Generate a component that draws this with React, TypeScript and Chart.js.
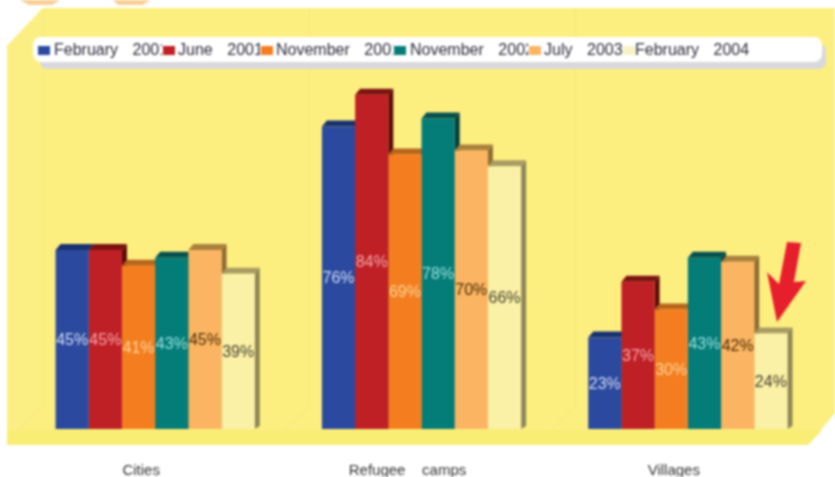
import React, { useEffect, useRef } from "react";
import { Chart, registerables } from "chart.js";

Chart.register(...registerables);

const categories = ["Cities", "Refugee    camps", "Villages"];
const seriesLabels = ["February   2001", "June   2001", "November   2001", "November   2002", "July   2003", "February   2004"];
const feb2001 = [45, 76, 23];
const jun2001 = [45, 84, 37];
const nov2001 = [41, 69, 30];
const nov2002 = [43, 78, 43];
const jul2003 = [45, 70, 42];
const feb2004 = [39, 66, 24];
const seriesValues = [feb2001, jun2001, nov2001, nov2002, jul2003, feb2004];

const frontColors = ["#2b4a9f", "#bf2026", "#f47e1f", "#047c78", "#fbb562", "#faf0a6"];
const capColors = ["#17316f", "#7c1210", "#b8651c", "#06504e", "#a9803c", "#a99c62"];
const sideColors = ["#12265a", "#5e0c0a", "#96521a", "#043d3c", "#8f6c34", "#8e8657"];
const labelColors = ["#d5dcf7", "#f8a6ac", "#fcd49a", "#96e0de", "#4b2d05", "#454030"];
const swatchColors = ["#2b4a9f", "#bf2026", "#f47e1f", "#047c78", "#fbb562", "#f8f3c4"];
const legendSwatchX = [38, 163, 261, 394, 529, 623];
const legendTextX = [54, 178, 276, 410, 544, 635];
const FONT = '"Liberation Sans", Arial, sans-serif';
const DEPTH_X = 5;
const DEPTH_Y = 6;

function poly(ctx: CanvasRenderingContext2D, pts: number[][], fill: string) {
  ctx.beginPath();
  pts.forEach((p, i) => (i ? ctx.lineTo(p[0], p[1]) : ctx.moveTo(p[0], p[1])));
  ctx.closePath();
  ctx.fillStyle = fill;
  ctx.fill();
}

const backdrop = {
  id: "backdrop",
  beforeDraw(chart: any) {
    const ctx: CanvasRenderingContext2D = chart.ctx;
    const xs = chart.scales.x;
    ctx.save();
    ctx.fillStyle = "#ffffff";
    ctx.fillRect(0, 0, chart.width, chart.height);
    // decorative scraps along the top edge
    poly(ctx, [[20, 0], [60, 0], [52, 5], [29, 5]], "#f9cf95");
    poly(ctx, [[113, 0], [150, 0], [143, 5], [118, 5]], "#f9cf95");
    // wall + floor
    poly(ctx, [[43, 8], [835, 8], [835, 413], [808, 445], [7, 445], [7, 46]], "#fdee80");
    poly(ctx, [[7, 46], [43, 8], [43, 406], [7, 445]], "#fbef84");
    poly(ctx, [[7, 430], [822, 430], [808, 445], [7, 445]], "#f9ee74");
    // grid of the wall and the floor, one per category boundary
    ctx.strokeStyle = "#f5e77c";
    ctx.lineWidth = 1;
    const step = xs.width / categories.length;
    for (let i = 0; i < categories.length; i++) {
      const gx = xs.left + step * i + 21;
      ctx.beginPath();
      ctx.moveTo(gx, 8);
      ctx.lineTo(gx, 406);
      ctx.lineTo(gx - 36, 442);
      ctx.stroke();
    }
    // legend pill
    ctx.fillStyle = "#d9d8dc";
    ctx.beginPath();
    ctx.roundRect(40, 44, 786, 25, 7);
    ctx.fill();
    ctx.fillStyle = "#ffffff";
    ctx.beginPath();
    ctx.roundRect(33, 37, 789, 25, 8);
    ctx.fill();
    ctx.restore();
  },
  beforeDatasetsDraw(chart: any) {
    const ctx: CanvasRenderingContext2D = chart.ctx;
    ctx.save();
    chart.data.datasets.forEach((_: any, i: number) => {
      chart.getDatasetMeta(i).data.forEach((b: any) => {
        const l = b.x - b.width / 2;
        const r = b.x + b.width / 2;
        poly(ctx, [[r, b.y], [r + DEPTH_X, b.y - DEPTH_Y], [r + DEPTH_X, b.base - 3], [r, b.base]], sideColors[i]);
        poly(ctx, [[l, b.y], [l + DEPTH_X, b.y - DEPTH_Y], [r + DEPTH_X, b.y - DEPTH_Y], [r, b.y]], capColors[i]);
      });
    });
    ctx.restore();
  },
  afterDatasetsDraw(chart: any) {
    const ctx: CanvasRenderingContext2D = chart.ctx;
    ctx.save();
    ctx.textAlign = "center";
    ctx.textBaseline = "middle";
    ctx.font = `16px ${FONT}`;
    chart.data.datasets.forEach((ds: any, i: number) => {
      chart.getDatasetMeta(i).data.forEach((b: any, j: number) => {
        ctx.fillStyle = labelColors[i];
        ctx.fillText(`${ds.data[j]}%`, b.x, (b.y + b.base) / 2 + 1);
      });
    });
    // legend entries: each swatch paints over the tail of the previous label
    ctx.textAlign = "left";
    ctx.font = `16px ${FONT}`;
    (ctx as any).wordSpacing = "0.4px";
    chart.data.datasets.forEach((ds: any, i: number) => {
      ctx.fillStyle = "#ffffff";
      ctx.fillRect(legendSwatchX[i] - 1, 42, 14, 16);
      ctx.fillStyle = swatchColors[i];
      ctx.fillRect(legendSwatchX[i], 46, 12, 9);
      ctx.fillStyle = "#2a2a3a";
      ctx.fillText(ds.label, legendTextX[i], 51);
    });
    // red call-out arrow pointing at the last village bar
    poly(ctx, [[787, 242], [801, 243], [794, 282], [806, 281], [777, 322], [767, 272], [779, 284]], "#e71f2d");
    ctx.restore();
  },
};

export default function App() {
  const ref = useRef<HTMLCanvasElement>(null);
  useEffect(() => {
    const chart = new Chart(ref.current!, {
      type: "bar",
      data: {
        labels: categories,
        datasets: seriesLabels.map((label, i) => ({
          label,
          data: seriesValues[i],
          backgroundColor: frontColors[i],
          borderWidth: 0,
          barPercentage: 1,
          categoryPercentage: 0.748,
        })),
      },
      options: {
        responsive: false,
        animation: false,
        layout: { padding: { left: 22, right: 14, top: 31, bottom: 0 } },
        plugins: { legend: { display: false }, tooltip: { enabled: false } },
        scales: {
          x: {
            grid: { display: false, drawTicks: false },
            border: { display: false },
            afterFit: (s: any) => {
              s.height = 48;
            },
            ticks: { padding: 33, labelOffset: -14, color: "#333333", font: { family: FONT, size: 15 }, maxRotation: 0 },
          },
          y: { display: false, min: 0, max: 100 },
        },
      },
      plugins: [backdrop],
    } as any);
    return () => chart.destroy();
  }, []);
  return (
    <canvas
      ref={ref}
      width={835}
      height={477}
      style={{ position: "fixed", left: 0, top: 0, width: 835, height: 477, filter: "blur(0.8px)" }}
    />
  );
}
